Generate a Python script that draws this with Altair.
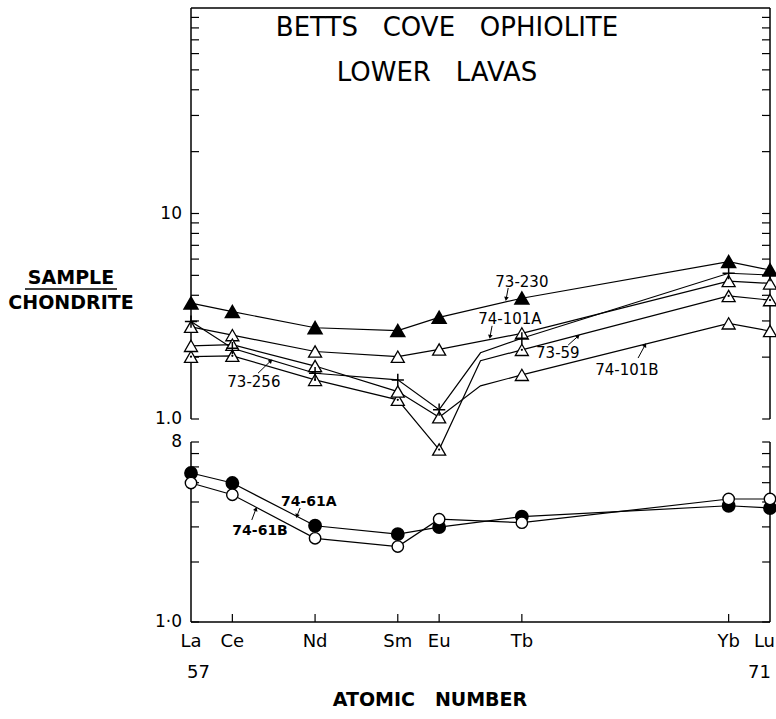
import altair as alt
import pandas as pd

# ---------------- data ----------------
elements = ["La", "Ce", "Nd", "Sm", "Eu", "Gd", "Tb", "Yb", "Lu"]
atomic = [57, 58, 60, 62, 63, 64, 65, 70, 71]
# Gd (64) is only a bend of the line (no symbol drawn)
v_73_230 = [3.66, 3.33, 2.78, 2.69, 3.12, None, 3.87, 5.83, 5.31]
v_74_101A = [2.81, 2.56, 2.13, 2.01, 2.18, None, 2.61, 4.69, 4.57]
v_73_256 = [2.98, 2.21, 1.67, 1.55, 1.11, 2.10, 2.47, 5.12, 5.02]
v_73_59 = [2.01, 2.03, 1.55, 1.24, 0.71, 1.92, 2.17, 3.97, 3.79]
v_74_101B = [2.27, 2.30, 1.81, 1.36, 1.02, 1.45, 1.64, 2.92, 2.68]
v_74_61A = [5.59, 4.98, 3.04, 2.76, 2.99, None, 3.38, 3.83, 3.73]
v_74_61B = [4.98, 4.35, 2.63, 2.39, 3.28, None, 3.15, 4.14, 4.14]

axis_elements = ["La", "Ce", "Nd", "Sm", "Eu", "Tb", "Yb"]
axis_atomic = [57, 58, 60, 62, 63, 65, 70]
last_element = "Lu"
last_atomic = 71
inner_x_ticks = [58, 60, 62, 63, 65, 70]
top_ticks = [1, 2, 3, 4, 5, 6, 7, 8, 9, 10, 20, 30, 40, 50, 60, 70, 80, 90]
bot_ticks = [1, 2, 3, 4, 5, 6, 7, 8]
top_tick_vals = [10, 1]
top_tick_text = ["10", "1.0"]
bot_tick_vals = [8, 1]
bot_tick_text = ["8", "1·0"]

top_lab_names = ["73-230", "74-101A", "73-59", "74-101B", "73-256"]
top_lab_x = [65.0, 64.71, 65.87, 67.54, 58.52]
top_lab_v = [4.64, 3.07, 2.10, 1.73, 1.51]
top_arr_x1 = [64.67, 64.28, 66.12, 67.81, 58.62]
top_arr_v1 = [4.34, 2.84, 2.29, 1.98, 1.67]
top_arr_x2 = [64.62, 64.23, 66.36, 67.98, 58.93]
top_arr_v2 = [3.84, 2.51, 2.53, 2.29, 1.92]
top_arr_angle = [190, 191, 48, 28, 47]

bot_lab_names = ["74-61A", "74-61B"]
bot_lab_x = [59.85, 58.67]
bot_lab_v = [4.01, 2.87]
bot_arr_x1 = [59.64, 58.47]
bot_arr_v1 = [3.73, 3.25]
bot_arr_x2 = [59.56, 58.57]
bot_arr_v2 = [3.40, 3.69]
bot_arr_angle = [200, 20]

# ---------------- layout ----------------
W, H = 579, 614
TOP_H = 411
BOT_TOP = 434
TICK = 8
FONT = "DejaVu Sans"

x_sc = alt.Scale(domain=[57, 71], nice=False, zero=False)
ytop = alt.Scale(type="log", domain=[1, 100], range=[TOP_H, 0], nice=False, clamp=False)
ybot = alt.Scale(type="log", domain=[1, 8], range=[H, BOT_TOP], nice=False, clamp=False)


def long(series):
    rows = []
    for name, vals in series.items():
        for el, z, v in zip(elements, atomic, vals):
            if v is not None:
                rows.append({"sample": name, "el": el, "x": z, "v": v, "sym": el != "Gd"})
    return pd.DataFrame(rows)


top_df = long({"73-230": v_73_230, "74-101A": v_74_101A, "73-256": v_73_256,
               "73-59": v_73_59, "74-101B": v_74_101B})
bot_df = long({"74-61A": v_74_61A, "74-61B": v_74_61B})

one = pd.DataFrame({"a": [0]})


def xe(f="x"):
    return alt.X(f"{f}:Q", scale=x_sc, axis=None)


def ye(sc, f="v"):
    return alt.Y(f"{f}:Q", scale=sc, axis=None)


def vrule(x, y1, y2, w=1.5):
    return alt.Chart(one).mark_rule(color="black", strokeWidth=w).encode(
        x=alt.value(x), y=alt.value(y1), y2=alt.value(y2))


def hrule(y, x1, x2, w=1.5):
    return alt.Chart(one).mark_rule(color="black", strokeWidth=w).encode(
        x=alt.value(x1), x2=alt.value(x2), y=alt.value(y))


def free_text(txt, x, y, size, bold=False, align="center"):
    return alt.Chart(one).mark_text(text=txt, font=FONT, fontSize=size,
                                    fontWeight="bold" if bold else "normal",
                                    align=align, baseline="middle", color="black").encode(
        x=alt.value(x), y=alt.value(y))


def pts(df, names, sc, **mk):
    d = df[df["sample"].isin(names) & df["sym"]]
    return alt.Chart(d).mark_point(opacity=1, **mk).encode(x=xe(), y=ye(sc))


def panel_ticks(vals, sc):
    d = pd.DataFrame({"v": vals})
    left = alt.Chart(d).mark_rule(color="black", strokeWidth=1.2).encode(
        x=alt.value(0), x2=alt.value(TICK), y=ye(sc))
    right = alt.Chart(d).mark_rule(color="black", strokeWidth=1.2).encode(
        x=alt.value(W - TICK), x2=alt.value(W), y=ye(sc))
    return [left, right]


def tick_labels(vals, texts, sc):
    d = pd.DataFrame({"v": vals, "t": texts})
    return alt.Chart(d).mark_text(font=FONT, fontSize=17, align="right", baseline="middle",
                                  color="black").encode(
        x=alt.value(-9), y=ye(sc), text="t:N")


def labels(names, xs, vs, sc, bold, size):
    d = pd.DataFrame({"t": names, "x": xs, "v": vs})
    return alt.Chart(d).mark_text(font=FONT, fontSize=size, align="center", baseline="middle",
                                  fontWeight="bold" if bold else "normal", color="black").encode(
        x=xe(), y=ye(sc), text="t:N")


def arrows(x1, v1, x2, v2, ang, sc):
    d = pd.DataFrame({"x": x1, "v": v1, "x2": x2, "v2": v2, "ang": ang})
    shaft = alt.Chart(d).mark_rule(color="black", strokeWidth=1).encode(
        x=xe(), y=ye(sc), x2="x2:Q", y2="v2:Q")
    head = alt.Chart(d).mark_point(shape="triangle-up", filled=True, color="black",
                                   size=22, opacity=1).encode(
        x=xe("x2"), y=ye(sc, "v2"), angle=alt.Angle("ang:Q", scale=None))
    return [shaft, head]


PLUS = "M-1,0L1,0M0,-1L0,1"
GAP = "\u00a0\u00a0\u00a0"

# ---------------- top panel ----------------
top_layers = [
    vrule(0, 0, TOP_H), vrule(W, 0, TOP_H), hrule(0, 0, W),
    *panel_ticks(top_ticks, ytop),
    tick_labels(top_tick_vals, top_tick_text, ytop),
    alt.Chart(top_df).mark_line(color="black", strokeWidth=1.2).encode(
        x=xe(), y=ye(ytop), detail="sample:N", order="x:Q"),
    pts(top_df, ["73-230"], ytop, shape="triangle-up", filled=True, fill="black",
        stroke="black", size=170),
    pts(top_df, ["74-101A", "74-101B", "73-59"], ytop, shape="triangle-up", filled=True,
        fill="white", stroke="black", strokeWidth=1.3, size=170),
    pts(top_df, ["73-59"], ytop, shape="circle", filled=True, fill="black", size=5),
    pts(top_df, ["73-256"], ytop, shape=PLUS, filled=False, stroke="black",
        strokeWidth=1.5, size=150),
    labels(top_lab_names, top_lab_x, top_lab_v, ytop, False, 15),
    *arrows(top_arr_x1, top_arr_v1, top_arr_x2, top_arr_v2, top_arr_angle, ytop),
    free_text("BETTS" + GAP + "COVE" + GAP + "OPHIOLITE", 256, 20, 26),
    free_text("LOWER" + GAP + "LAVAS", 246, 65, 26),
    free_text("SAMPLE", -120, 270, 19, bold=True),
    hrule(281, -166, -74, 1.5),
    free_text("CHONDRITE", -120, 295, 19, bold=True),
]
top_layer = alt.layer(*top_layers)

# ---------------- bottom panel ----------------
xt = pd.DataFrame({"x": inner_x_ticks})
xl = pd.DataFrame({"x": axis_atomic, "el": axis_elements})
bot_layers = [
    vrule(0, BOT_TOP, H), vrule(W, BOT_TOP, H), hrule(H, 0, W),
    *panel_ticks(bot_ticks, ybot),
    tick_labels(bot_tick_vals, bot_tick_text, ybot),
    alt.Chart(xt).mark_rule(color="black", strokeWidth=1.2).encode(
        x=xe(), y=alt.value(H - TICK), y2=alt.value(H)),
    alt.Chart(xl).mark_text(font=FONT, fontSize=18, baseline="middle", color="black").encode(
        x=xe(), y=alt.value(H + 20), text="el:N"),
    alt.Chart(pd.DataFrame({"x": [last_atomic], "t": [last_element]})).mark_text(
        font=FONT, fontSize=18, baseline="middle", align="right", dx=5, color="black").encode(
        x=xe(), y=alt.value(H + 20), text="t:N"),
    alt.Chart(pd.DataFrame({"x": [57], "t": ["57"]})).mark_text(
        font=FONT, fontSize=18, baseline="middle", align="left", dx=-4, color="black").encode(
        x=xe(), y=alt.value(H + 51), text="t:N"),
    alt.Chart(pd.DataFrame({"x": [71], "t": ["71"]})).mark_text(
        font=FONT, fontSize=18, baseline="middle", align="right", dx=1, color="black").encode(
        x=xe(), y=alt.value(H + 51), text="t:N"),
    free_text("ATOMIC" + GAP + "NUMBER", 239, H + 78, 19, bold=True),
    alt.Chart(bot_df).mark_line(color="black", strokeWidth=1.2).encode(
        x=xe(), y=ye(ybot), detail="sample:N", order="x:Q"),
    pts(bot_df, ["74-61A"], ybot, shape="circle", filled=True, fill="black",
        stroke="black", size=140),
    pts(bot_df, ["74-61B"], ybot, shape="circle", filled=True, fill="white",
        stroke="black", strokeWidth=1.4, size=130),
    labels(bot_lab_names, bot_lab_x, bot_lab_v, ybot, True, 14),
    *arrows(bot_arr_x1, bot_arr_v1, bot_arr_x2, bot_arr_v2, bot_arr_angle, ybot),
]
bot_layer = alt.layer(*bot_layers)

chart = alt.layer(top_layer, bot_layer).resolve_scale(y="independent").properties(
    width=W, height=H,
    padding={"left": 191, "top": 8, "right": 6, "bottom": 97},
    autosize=alt.AutoSizeParams(type="none"),
    background="white",
).configure_view(stroke=None)

chart.save("out.html", embed_options={"renderer": "svg", "actions": False})
